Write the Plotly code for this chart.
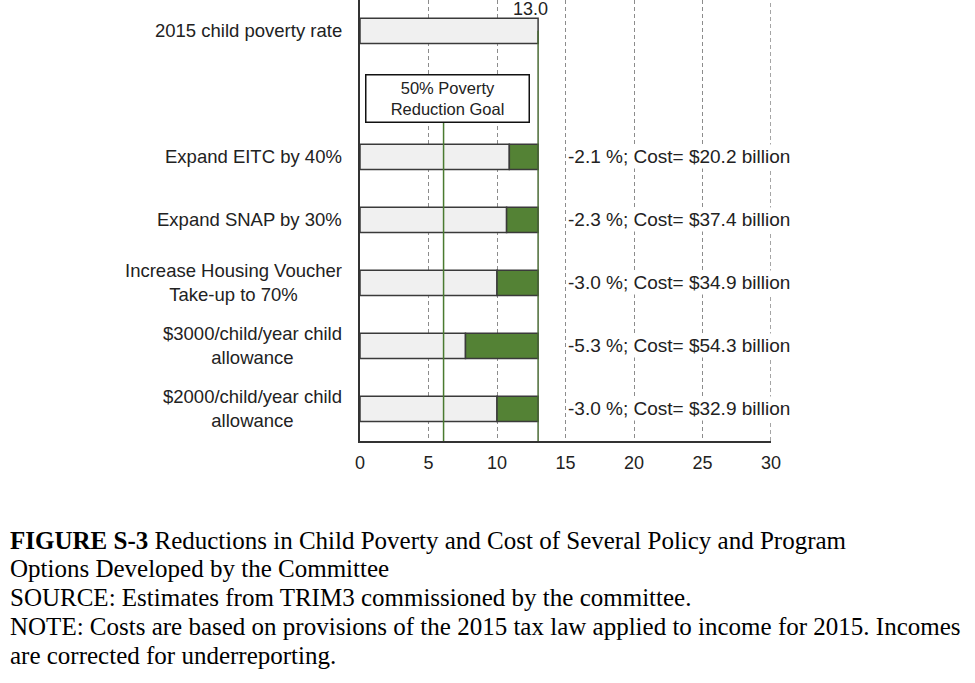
import plotly.graph_objects as go

# ---- data ----
categories = [
    "2015 child poverty rate",
    "",
    "Expand EITC by 40%",
    "Expand SNAP by 30%",
    "Increase Housing Voucher<br>Take-up to 70%",
    "$3000/child/year child<br>allowance",
    "$2000/child/year child<br>allowance",
]
baseline_rate = 13.0
goal_rate = 6.1
policy_reductions = [2.1, 2.3, 3.0, 5.3, 3.0]
policy_costs = [20.2, 37.4, 34.9, 54.3, 32.9]
x_ticks = [0, 5, 10, 15, 20, 25, 30]
caption_lines = [
    "<b>FIGURE S-3</b> Reductions in Child Poverty and Cost of Several Policy and Program",
    "Options Developed by the Committee",
    "SOURCE: Estimates from TRIM3 commissioned by the committee.",
    "NOTE: Costs are based on provisions of the 2015 tax law applied to income for 2015. Incomes",
    "are corrected for underreporting.",
]

# ---- derived ----
rows = list(range(len(categories)))
policy_rows = rows[2:]
remaining = [baseline_rate - r for r in policy_reductions]

W, H = 975, 683
ML, MR, MT, MB = 360, 204, 0, 242
plot_w = W - ML - MR
plot_h = H - MT - MB

GRAY = "#f0f0f0"
GREEN = "#548235"
EDGE = "#3a3a3a"
TXT = "#222222"
GRID = "#8c8c8c"
SANS = "Liberation Sans, Arial, sans-serif"
SERIF = "Liberation Serif, Times New Roman, serif"

fig = go.Figure()
fig.add_trace(go.Bar(
    y=[rows[0]] + policy_rows,
    x=[baseline_rate] + remaining,
    orientation="h",
    width=0.4,
    marker=dict(color=GRAY, line=dict(color=EDGE, width=1.5)),
    hoverinfo="skip",
))
fig.add_trace(go.Bar(
    y=policy_rows,
    x=policy_reductions,
    base=remaining,
    orientation="h",
    width=0.4,
    marker=dict(color=GREEN, line=dict(color=EDGE, width=1.5)),
    hoverinfo="skip",
))

shapes = [
    dict(type="line", xref="x", yref="paper", x0=x_ticks[-1] - 0.02, x1=x_ticks[-1] - 0.02,
         y0=0, y1=1, line=dict(color=GRID, width=1, dash="4px,3px"), layer="below"),
    dict(type="line", xref="x", yref="y", x0=baseline_rate, x1=baseline_rate,
         y0=rows[0], y1=6.51, line=dict(color="#4a6b35", width=1.5), layer="above"),
    dict(type="line", xref="x", yref="y", x0=goal_rate, x1=goal_rate,
         y0=1.0, y1=6.51, line=dict(color="#4a7a30", width=1.5), layer="above"),
]

annotations = []
# category labels
for r, c in zip(rows, categories):
    if not c:
        continue
    annotations.append(dict(
        xref="paper", yref="y", x=-16 / plot_w, y=r,
        text=c, showarrow=False, xanchor="right", yanchor="middle",
        align="center", font=dict(family=SANS, size=18.5, color=TXT),
    ))
# value labels
for r, red, cost in zip(policy_rows, policy_reductions, policy_costs):
    annotations.append(dict(
        xref="x", yref="y", x=15.0, y=r,
        text=f"-{red:.1f} %; Cost= ${cost:.1f} billion",
        showarrow=False, xanchor="left", yanchor="middle",
        bgcolor="white", font=dict(family=SANS, size=19, color=TXT),
    ))
# 13.0 label
annotations.append(dict(
    xref="x", yref="paper", x=baseline_rate, y=1 - 9 / plot_h, xshift=-8,
    text=f"{baseline_rate:.1f}", showarrow=False, xanchor="center", yanchor="middle",
    font=dict(family=SANS, size=18, color=TXT),
))
# goal box
annotations.append(dict(
    xref="x", yref="y", x=6.4, y=1.08,
    text="50% Poverty<br>Reduction Goal", showarrow=False,
    xanchor="center", yanchor="middle", align="center",
    width=160, height=44, borderpad=1,
    bordercolor="#111111", borderwidth=1.5, bgcolor="white",
    font=dict(family=SANS, size=16.5, color=TXT),
))
# caption
caption_y = [540, 568, 597, 626, 655]
for line, py in zip(caption_lines, caption_y):
    annotations.append(dict(
        xref="paper", yref="paper",
        x=(8 - ML) / plot_w, y=(plot_h - py) / plot_h,
        text=line, showarrow=False, xanchor="left", yanchor="middle",
        align="left", font=dict(family=SERIF, size=25, color="black"),
    ))

fig.update_layout(
    width=W, height=H,
    margin=dict(l=ML, r=MR, t=MT, b=MB, pad=0),
    paper_bgcolor="white", plot_bgcolor="white",
    barmode="overlay",
    showlegend=False,
    shapes=shapes,
    annotations=annotations,
    xaxis=dict(
        range=[0, 30], tickvals=x_ticks, ticktext=[str(t) for t in x_ticks],
        showgrid=True, gridcolor=GRID, griddash="4px,3px", gridwidth=1,
        zeroline=False, showline=True, linecolor="#333333", linewidth=1.5,
        ticks="", ticklabelstandoff=5,
        tickfont=dict(family=SANS, size=18, color=TXT),
    ),
    yaxis=dict(
        range=[6.51, -0.49], showticklabels=False, showgrid=False,
        zeroline=False, showline=True, linecolor="#333333", linewidth=1.5,
        ticks="",
    ),
)

fig.write_html("out.html", config={"displayModeBar": False},
               post_script="document.body.style.margin='0';")
